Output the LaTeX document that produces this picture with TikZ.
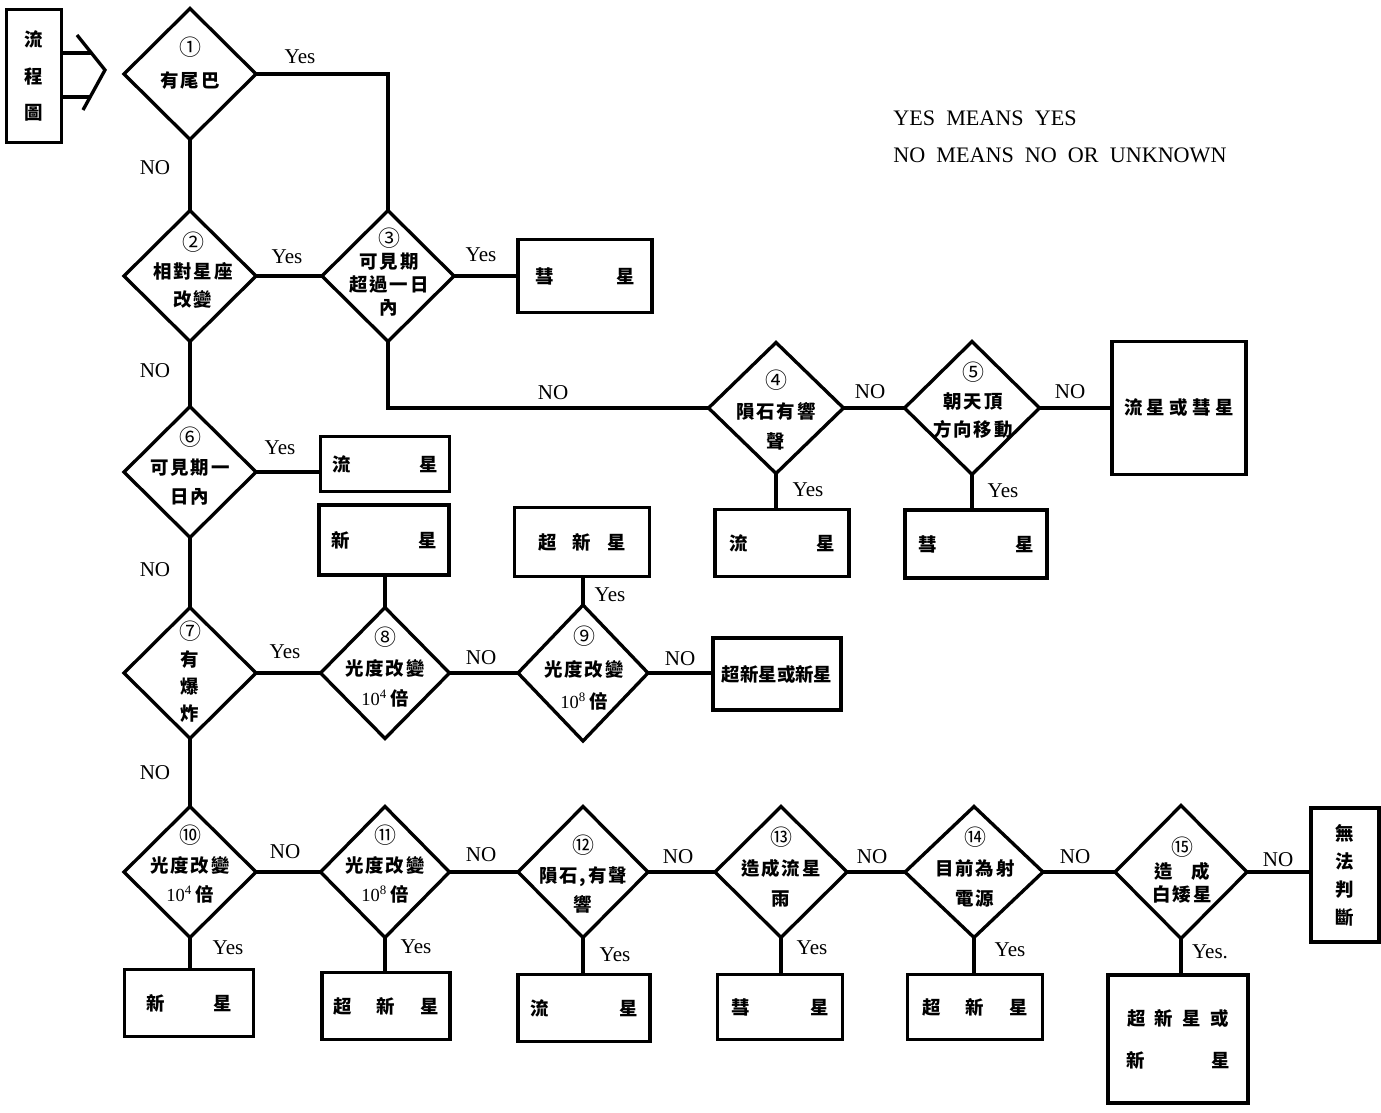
\documentclass[tikz,border=0pt]{standalone}
\usepackage{fontspec}
\setmainfont{Liberation Serif}
\newfontfamily\cjk{Noto Sans CJK TC}
\newfontfamily\cjksp[LetterSpace=10]{Noto Sans CJK TC}
\usetikzlibrary{shapes.geometric}

\tikzset{
  dec/.style={draw, shape=diamond, line width=1.9pt, inner sep=0pt, outer sep=0pt,
              minimum width=2.64cm, minimum height=2.62cm},
  res/.style={draw, line width=2.1pt, inner sep=0pt, outer sep=0pt, align=center,
              font=\cjk\bfseries\fontsize{10.5}{14}\selectfont},
  dtext/.style={align=center, inner sep=0pt, font=\cjksp\bfseries\fontsize{10.5}{#1}\selectfont},
  dtext/.default=16,
  ans/.style={inner sep=0pt, font=\fontsize{12}{14}\selectfont},
  note/.style={inner sep=0pt, anchor=west, font=\fontsize{12.6}{14}\selectfont},
  link/.style={line width=1.9pt},
}
\newcommand\spread[2]{\makebox[#1]{#2}}
\newcommand\gap{\hfill{}}
\newcommand\pow[1]{{\rmfamily\mdseries 10\textsuperscript{#1}\,}}
\newcommand\cn[1]{{\mdseries\fontsize{12.5}{12.5}\selectfont #1}}

\begin{document}
\begin{tikzpicture}[x=0.02cm, y=-0.02cm]
\useasboundingbox (0,0) rectangle (1381,1112);

% ---- title box with open arrow ----
\node[res, minimum width=1.1cm, minimum height=2.66cm,
      font=\cjk\bfseries\fontsize{10.5}{21}\selectfont] (flow) at (34,76) {流\\程\\圖};
\coordinate (au) at (91,53);
\coordinate (al) at (90,97);
\draw[link] (flow.east |- au) -- (au);
\draw[link] (flow.east |- al) -- (al);
\draw[link] (77,35) -- (105,70) -- (83,110);

% ---- legend ----
\node[note] (lg1) at (893,118) {YES\ \ MEANS\ \ YES};
\node[note] (lg2) at (893,155) {NO\ \ MEANS\ \ NO\ \ OR\ \ UNKNOWN};

% ---- decisions ----
\node[dec] (d1) at (190,74) {};
\node[dtext=18] (t1) at (190,63) {\cn{①}\\有尾巴};
\node[dec] (d2) at (190,276) {};
\node[dtext=16] (t2) at (193,270) {\cn{②}\\相對星座\\改變};
\node[dec] (d3) at (388,276) {};
\node[dtext=13] (t3) at (389,272) {\cn{③}\\可見期\\超過一日\\內};
\node[dec, minimum width=2.7cm] (d4) at (776,408) {};
\node[dtext=17] (t4) at (776,410) {\cn{④}\\隕石有響\\聲};
\node[dec, minimum width=2.7cm, minimum height=2.66cm] (d5) at (972,408) {};
\node[dtext=16] (t5) at (973,400) {\cn{⑤}\\朝天頂\\方向移動};
\node[dec] (d6) at (190,472) {};
\node[dtext=16.5] (t6) at (190,466) {\cn{⑥}\\可見期一\\日內};
\node[dec] (d7) at (190,673) {};
\node[dtext=15.3] (t7) at (190,672) {\cn{⑦}\\有\\爆\\炸};
\node[dec, minimum width=2.58cm] (d8) at (385,673) {};
\node[dtext=17] (t8) at (385,667) {\cn{⑧}\\光度改變\\\pow{4}倍};
\node[dec, minimum width=2.6cm, minimum height=2.72cm] (d9) at (583,673) {};
\node[dtext=18] (t9) at (584,668) {\cn{⑨}\\光度改變\\\pow{8}倍};

% bottom row
\node[dec] (d10) at (190,872) {};
\node[dtext=16.5] (t10) at (190,864) {\cn{⑩}\\光度改變\\\pow{4}倍};
\node[dec, minimum width=2.58cm] (d11) at (385,872) {};
\node[dtext=16.5] (t11) at (385,864) {\cn{⑪}\\光度改變\\\pow{8}倍};
\node[dec, minimum width=2.6cm] (d12) at (583,872) {};
\node[dtext=16.5] (t12) at (583,874) {\cn{⑫}\\隕石,有聲\\響};
\node[dec] (d13) at (781,872) {};
\node[dtext=17] (t13) at (781,867) {\cn{⑬}\\造成流星\\雨};
\node[dec, minimum width=2.76cm] (d14) at (974,872) {};
\node[dtext=17] (t14) at (975,867) {\cn{⑭}\\目前為射\\電源};
\node[dec, minimum height=2.66cm] (d15) at (1181,872) {};
\node[dtext=13] (t15) at (1182,870) {\cn{⑮}\\造\hspace{1em}成\\白矮星};

% ---- results ----
\node[res, minimum width=2.68cm, minimum height=1.46cm] (b3) at (585,276) {\spread{2.0cm}{彗\gap 星}};
\node[res, minimum width=2.68cm, minimum height=2.66cm] (b5) at (1179,408) {\spread{2.2cm}{流\gap 星\gap 或\gap 彗\gap 星}};
\node[res, minimum width=2.68cm, minimum height=1.34cm] (b4) at (782,543) {\spread{2.12cm}{流\gap 星}};
\node[res, minimum width=2.84cm, minimum height=1.36cm] (b5y) at (976,544) {\spread{2.3cm}{彗\gap 星}};
\node[res, minimum width=2.58cm, minimum height=1.1cm] (b6) at (385,464) {\spread{2.1cm}{流\gap 星}};
\node[res, minimum width=2.6cm, minimum height=1.4cm] (b8) at (384,540) {\spread{2.1cm}{新\gap 星}};
\node[res, minimum width=2.7cm, minimum height=1.38cm] (b9) at (582,542) {\spread{1.76cm}{超\gap 新\gap 星}};
\node[res, minimum width=2.56cm, minimum height=1.44cm] (b9n) at (777,674) {超新星或新星};

\node[res, minimum width=2.58cm, minimum height=1.34cm] (b10) at (189,1003) {\spread{1.7cm}{新\gap 星}};
\node[res, minimum width=2.56cm, minimum height=1.34cm] (b11) at (386,1006) {\spread{2.1cm}{超\gap 新\gap 星}};
\node[res, minimum width=2.64cm, minimum height=1.34cm] (b12) at (584,1008) {\spread{2.16cm}{流\gap 星}};
\node[res, minimum width=2.5cm, minimum height=1.3cm] (b13) at (780,1007) {\spread{1.96cm}{彗\gap 星}};
\node[res, minimum width=2.7cm, minimum height=1.3cm] (b14) at (975,1007) {\spread{2.12cm}{超\gap 新\gap 星}};
\node[res, minimum width=2.8cm, minimum height=2.56cm, font=\cjk\bfseries\fontsize{10.5}{24}\selectfont] (b15) at (1178,1039)
  {\spread{2.04cm}{超\gap 新\gap 星\gap 或}\\\spread{2.06cm}{新\gap 星}};
\node[res, minimum width=1.36cm, minimum height=2.68cm, font=\cjk\bfseries\fontsize{10.5}{16}\selectfont] (b16) at (1345,875) {無\\法\\判\\斷};

% ---- connectors ----
\draw[link] (d1.east) -| (d3.north);
\draw[link] (d1.south) -- (d2.north);
\draw[link] (d2.east) -- (d3.west);
\draw[link] (d3.east) -- (b3.west);
\draw[link] (d3.south) |- (d4.west);
\draw[link] (d2.south) -- (d6.north);
\draw[link] (d4.east) -- (d5.west);
\draw[link] (d5.east) -- (b5.west);
\draw[link] (d4.south) -- (d4.south |- b4.north);
\draw[link] (d5.south) -- (d5.south |- b5y.north);
\draw[link] (d6.east) -- (d6.east -| b6.west);
\draw[link] (d6.south) -- (d7.north);
\draw[link] (d7.east) -- (d8.west);
\draw[link] (d8.north) -- (d8.north |- b8.south);
\draw[link] (d8.east) -- (d9.west);
\draw[link] (d9.north) -- (d9.north |- b9.south);
\draw[link] (d9.east) -- (d9.east -| b9n.west);
\draw[link] (d7.south) -- (d10.north);
\draw[link] (d10.east) -- (d11.west);
\draw[link] (d11.east) -- (d12.west);
\draw[link] (d12.east) -- (d13.west);
\draw[link] (d13.east) -- (d14.west);
\draw[link] (d14.east) -- (d15.west);
\draw[link] (d15.east) -- (d15.east -| b16.west);
\draw[link] (d10.south) -- (d10.south |- b10.north);
\draw[link] (d11.south) -- (d11.south |- b11.north);
\draw[link] (d12.south) -- (d12.south |- b12.north);
\draw[link] (d13.south) -- (d13.south |- b13.north);
\draw[link] (d14.south) -- (d14.south |- b14.north);
\draw[link] (d15.south) -- (d15.south |- b15.north);

% ---- branch labels ----
\node[ans] (y1) at (300,57) {Yes};
\node[ans] (n1) at (155,168) {NO};
\node[ans] (y2) at (287,257) {Yes};
\node[ans] (y3) at (481,255) {Yes};
\node[ans] (n2) at (155,371) {NO};
\node[ans] (n3) at (553,393) {NO};
\node[ans] (n4) at (870,392) {NO};
\node[ans] (n5) at (1070,392) {NO};
\node[ans] (y4) at (808,490) {Yes};
\node[ans] (y5) at (1003,491) {Yes};
\node[ans] (y6) at (280,448) {Yes};
\node[ans] (n6) at (155,570) {NO};
\node[ans] (y7) at (285,652) {Yes};
\node[ans] (n8) at (481,658) {NO};
\node[ans] (y9) at (610,595) {Yes};
\node[ans] (n9) at (680,659) {NO};
\node[ans] (n7) at (155,773) {NO};
\node[ans] (n10) at (285,852) {NO};
\node[ans] (n11) at (481,855) {NO};
\node[ans] (n12) at (678,857) {NO};
\node[ans] (n13) at (872,857) {NO};
\node[ans] (n14) at (1075,857) {NO};
\node[ans] (n15) at (1278,860) {NO};
\node[ans] (y10) at (228,948) {Yes};
\node[ans] (y11) at (416,947) {Yes};
\node[ans] (y12) at (615,955) {Yes};
\node[ans] (y13) at (812,948) {Yes};
\node[ans] (y14) at (1010,950) {Yes};
\node[ans] (y15) at (1210,952) {Yes.};
\end{tikzpicture}
\end{document}
